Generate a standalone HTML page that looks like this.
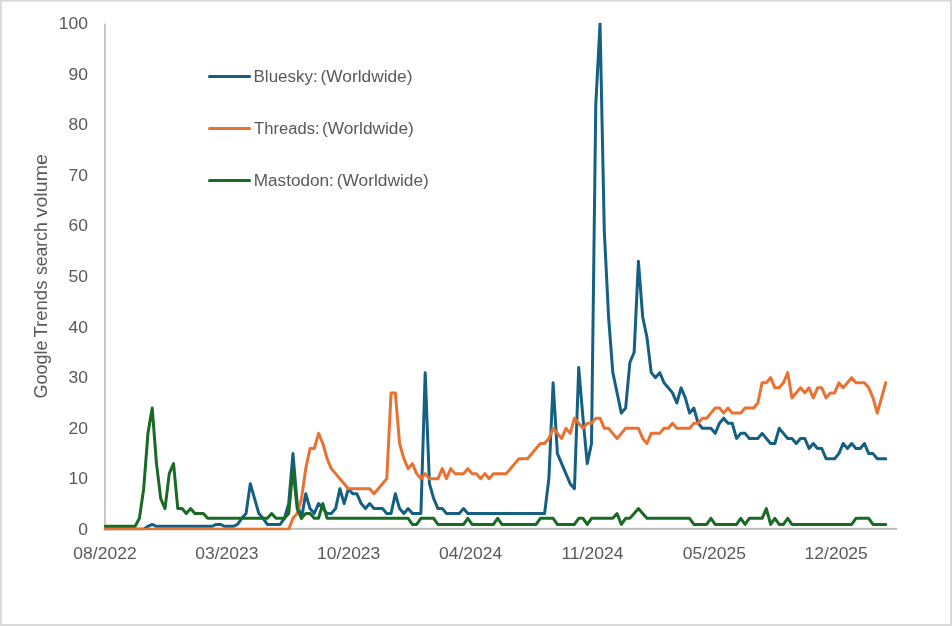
<!DOCTYPE html>
<html><head><meta charset="utf-8"><title>Google Trends search volume</title>
<style>
html,body{margin:0;padding:0;background:#fff;}
body{width:952px;height:626px;overflow:hidden;}
svg{display:block;}
text{font-family:"Liberation Sans",sans-serif;fill:#595959;}
</style></head><body>
<svg width="952" height="626" viewBox="0 0 952 626">
<rect x="0" y="0" width="952" height="626" fill="#ffffff"/>
<rect x="0" y="0" width="952" height="1.65" fill="#d9d9d9"/>
<rect x="0" y="624.1" width="952" height="1.9" fill="#d9d9d9"/>
<rect x="0" y="0" width="1.8" height="626" fill="#d9d9d9"/>
<rect x="950" y="0" width="2" height="626" fill="#d9d9d9"/>

<rect x="104.1" y="23.6" width="1.6" height="506.2" fill="#bdbdbd"/>
<rect x="104.1" y="527.85" width="793" height="1.95" fill="#bdbdbd"/>
<text transform="translate(88,534.9) scale(1.055,1)" font-size="16.6" text-anchor="end">0</text>
<text transform="translate(88,484.3) scale(1.055,1)" font-size="16.6" text-anchor="end">10</text>
<text transform="translate(88,433.7) scale(1.055,1)" font-size="16.6" text-anchor="end">20</text>
<text transform="translate(88,383.1) scale(1.055,1)" font-size="16.6" text-anchor="end">30</text>
<text transform="translate(88,332.5) scale(1.055,1)" font-size="16.6" text-anchor="end">40</text>
<text transform="translate(88,281.9) scale(1.055,1)" font-size="16.6" text-anchor="end">50</text>
<text transform="translate(88,231.3) scale(1.055,1)" font-size="16.6" text-anchor="end">60</text>
<text transform="translate(88,180.7) scale(1.055,1)" font-size="16.6" text-anchor="end">70</text>
<text transform="translate(88,130.1) scale(1.055,1)" font-size="16.6" text-anchor="end">80</text>
<text transform="translate(88,79.5) scale(1.055,1)" font-size="16.6" text-anchor="end">90</text>
<text transform="translate(88,28.9) scale(1.055,1)" font-size="16.6" text-anchor="end">100</text>
<text transform="translate(105.0,559.2) scale(1.055,1)" font-size="16.6" text-anchor="middle">08/2022</text>
<text transform="translate(226.9,559.2) scale(1.055,1)" font-size="16.6" text-anchor="middle">03/2023</text>
<text transform="translate(348.7,559.2) scale(1.055,1)" font-size="16.6" text-anchor="middle">10/2023</text>
<text transform="translate(470.6,559.2) scale(1.055,1)" font-size="16.6" text-anchor="middle">04/2024</text>
<text transform="translate(592.4,559.2) scale(1.055,1)" font-size="16.6" text-anchor="middle">11/2024</text>
<text transform="translate(714.3,559.2) scale(1.055,1)" font-size="16.6" text-anchor="middle">05/2025</text>
<text transform="translate(836.2,559.2) scale(1.055,1)" font-size="16.6" text-anchor="middle">12/2025</text>
<text transform="translate(47.3,398.6) rotate(-90)" font-size="17.6" textLength="58.0" lengthAdjust="spacingAndGlyphs">Google</text>
<text transform="translate(47.3,337.6) rotate(-90)" font-size="17.6" textLength="57.0" lengthAdjust="spacingAndGlyphs">Trends</text>
<text transform="translate(47.3,275.0) rotate(-90)" font-size="17.6" textLength="52.8" lengthAdjust="spacingAndGlyphs">search</text>
<text transform="translate(47.3,217.4) rotate(-90)" font-size="17.6" textLength="63.4" lengthAdjust="spacingAndGlyphs">volume</text>
<defs><clipPath id="pc"><rect x="100" y="22.8" width="800" height="507.4"/></clipPath></defs>
<g fill="none" stroke-width="3.0" stroke-linejoin="round" stroke-linecap="round" clip-path="url(#pc)">
<polyline stroke="#156082" points="105.30,529.20 109.56,529.20 113.83,529.20 118.09,529.20 122.36,529.20 126.62,529.20 130.89,529.20 135.16,529.20 139.42,529.20 143.69,529.20 147.95,526.27 152.22,524.44 156.48,526.27 160.75,526.27 165.01,526.27 169.27,526.27 173.54,526.27 177.81,526.27 182.07,526.27 186.33,526.27 190.60,526.27 194.87,526.27 199.13,526.27 203.39,526.27 207.66,526.27 211.92,526.27 216.19,524.44 220.45,524.44 224.72,526.27 228.98,526.27 233.25,526.27 237.51,524.44 241.78,518.28 246.04,513.52 250.31,483.66 254.57,498.64 258.84,513.52 263.10,518.28 267.37,524.44 271.63,524.44 275.90,524.44 280.16,524.44 284.43,518.28 288.69,503.60 292.96,453.60 297.22,503.60 301.49,518.28 305.75,493.78 310.02,508.56 314.28,513.52 318.55,503.60 322.81,508.56 327.08,513.52 331.34,513.52 335.61,508.56 339.88,488.72 344.14,503.60 348.40,488.72 352.67,493.78 356.94,493.78 361.20,503.60 365.46,508.56 369.73,503.60 374.00,508.56 378.26,508.56 382.52,508.56 386.79,513.52 391.06,513.52 395.32,493.78 399.58,508.56 403.85,513.52 408.12,508.56 412.38,513.52 416.64,513.52 420.91,513.52 425.18,372.64 429.44,483.66 433.70,498.64 437.97,508.56 442.24,508.56 446.50,513.52 450.76,513.52 455.03,513.52 459.29,513.52 463.56,508.56 467.82,513.52 472.09,513.52 476.35,513.52 480.62,513.52 484.88,513.52 489.15,513.52 493.41,513.52 497.68,513.52 501.94,513.52 506.21,513.52 510.47,513.52 514.74,513.52 519.00,513.52 523.27,513.52 527.53,513.52 531.80,513.52 536.06,513.52 540.33,513.52 544.59,513.52 548.86,478.70 553.12,382.76 557.39,453.60 561.65,463.62 565.92,473.64 570.18,483.66 574.45,488.72 578.71,367.58 582.98,418.18 587.24,463.62 591.51,443.48 595.77,104.46 600.04,23.50 604.30,230.96 608.57,316.98 612.83,372.64 617.10,392.88 621.36,413.12 625.63,408.06 629.89,362.52 634.16,352.40 638.42,261.32 642.69,316.98 646.95,337.22 651.22,372.64 655.48,377.70 659.75,372.64 664.01,382.76 668.28,387.82 672.54,392.88 676.81,403.00 681.07,387.82 685.34,397.94 689.60,413.12 693.87,408.06 698.13,423.24 702.40,428.30 706.66,428.30 710.93,428.30 715.19,433.36 719.46,423.24 723.72,418.18 727.99,423.24 732.25,423.24 736.52,438.42 740.78,433.36 745.05,433.36 749.31,438.42 753.58,438.42 757.84,438.42 762.11,433.36 766.37,438.42 770.64,443.48 774.90,443.48 779.17,428.30 783.43,433.36 787.70,438.42 791.96,438.42 796.23,443.48 800.49,438.42 804.76,438.42 809.02,448.54 813.29,443.48 817.55,448.54 821.82,448.54 826.08,458.66 830.35,458.66 834.61,458.66 838.88,453.60 843.14,443.48 847.41,448.54 851.67,443.48 855.94,448.54 860.20,448.54 864.47,443.48 868.73,453.60 873.00,453.60 877.26,458.66 881.53,458.66 885.79,458.66"/>
<polyline stroke="#e97132" points="105.30,529.20 109.56,529.20 113.83,529.20 118.09,529.20 122.36,529.20 126.62,529.20 130.89,529.20 135.16,529.20 139.42,529.20 143.69,529.20 147.95,529.20 152.22,529.20 156.48,529.20 160.75,529.20 165.01,529.20 169.27,529.20 173.54,529.20 177.81,529.20 182.07,529.20 186.33,529.20 190.60,529.20 194.87,529.20 199.13,529.20 203.39,529.20 207.66,529.20 211.92,529.20 216.19,529.20 220.45,529.20 224.72,529.20 228.98,529.20 233.25,529.20 237.51,529.20 241.78,529.20 246.04,529.20 250.31,529.20 254.57,529.20 258.84,529.20 263.10,529.20 267.37,529.20 271.63,529.20 275.90,529.20 280.16,529.20 284.43,529.20 288.69,529.20 292.96,518.28 297.22,513.52 301.49,498.64 305.75,468.68 310.02,448.54 314.28,448.54 318.55,433.36 322.81,443.48 327.08,458.66 331.34,468.68 335.61,473.64 339.88,478.70 344.14,483.66 348.40,488.72 352.67,488.72 356.94,488.72 361.20,488.72 365.46,488.72 369.73,488.72 374.00,493.78 378.26,488.72 382.52,483.66 386.79,478.70 391.06,392.88 395.32,392.88 399.58,443.48 403.85,458.66 408.12,468.68 412.38,463.62 416.64,473.64 420.91,478.70 425.18,473.64 429.44,478.70 433.70,478.70 437.97,478.70 442.24,468.68 446.50,478.70 450.76,468.68 455.03,473.64 459.29,473.64 463.56,473.64 467.82,468.68 472.09,473.64 476.35,473.64 480.62,478.70 484.88,473.64 489.15,478.70 493.41,473.64 497.68,473.64 501.94,473.64 506.21,473.64 510.47,468.68 514.74,463.62 519.00,458.66 523.27,458.66 527.53,458.66 531.80,453.60 536.06,448.54 540.33,443.48 544.59,443.48 548.86,438.42 553.12,428.30 557.39,433.36 561.65,438.42 565.92,428.30 570.18,433.36 574.45,418.18 578.71,423.24 582.98,428.30 587.24,423.24 591.51,423.24 595.77,418.18 600.04,418.18 604.30,428.30 608.57,428.30 612.83,433.36 617.10,438.42 621.36,433.36 625.63,428.30 629.89,428.30 634.16,428.30 638.42,428.30 642.69,438.42 646.95,443.48 651.22,433.36 655.48,433.36 659.75,433.36 664.01,428.30 668.28,428.30 672.54,423.24 676.81,428.30 681.07,428.30 685.34,428.30 689.60,428.30 693.87,423.24 698.13,423.24 702.40,418.18 706.66,418.18 710.93,413.12 715.19,408.06 719.46,408.06 723.72,413.12 727.99,408.06 732.25,413.12 736.52,413.12 740.78,413.12 745.05,408.06 749.31,408.06 753.58,408.06 757.84,403.00 762.11,382.76 766.37,382.76 770.64,377.70 774.90,387.82 779.17,387.82 783.43,382.76 787.70,372.64 791.96,397.94 796.23,392.88 800.49,387.82 804.76,392.88 809.02,387.82 813.29,397.94 817.55,387.82 821.82,387.82 826.08,397.94 830.35,392.88 834.61,392.88 838.88,382.76 843.14,387.82 847.41,382.76 851.67,377.70 855.94,382.76 860.20,382.76 864.47,382.76 868.73,387.82 873.00,397.94 877.26,413.12 881.53,397.94 885.79,382.76"/>
<polyline stroke="#196b24" points="105.30,526.27 109.56,526.27 113.83,526.27 118.09,526.27 122.36,526.27 126.62,526.27 130.89,526.27 135.16,526.27 139.42,518.28 143.69,488.72 147.95,433.36 152.22,408.06 156.48,463.62 160.75,498.64 165.01,508.56 169.27,473.64 173.54,463.62 177.81,508.56 182.07,508.56 186.33,513.52 190.60,508.56 194.87,513.52 199.13,513.52 203.39,513.52 207.66,518.28 211.92,518.28 216.19,518.28 220.45,518.28 224.72,518.28 228.98,518.28 233.25,518.28 237.51,518.28 241.78,518.28 246.04,518.28 250.31,518.28 254.57,518.28 258.84,518.28 263.10,518.28 267.37,518.28 271.63,513.52 275.90,518.28 280.16,518.28 284.43,518.28 288.69,513.52 292.96,468.68 297.22,508.56 301.49,518.28 305.75,513.52 310.02,513.52 314.28,518.28 318.55,518.28 322.81,503.60 327.08,518.28 331.34,518.28 335.61,518.28 339.88,518.28 344.14,518.28 348.40,518.28 352.67,518.28 356.94,518.28 361.20,518.28 365.46,518.28 369.73,518.28 374.00,518.28 378.26,518.28 382.52,518.28 386.79,518.28 391.06,518.28 395.32,518.28 399.58,518.28 403.85,518.28 408.12,518.28 412.38,524.44 416.64,524.44 420.91,518.28 425.18,518.28 429.44,518.28 433.70,518.28 437.97,524.44 442.24,524.44 446.50,524.44 450.76,524.44 455.03,524.44 459.29,524.44 463.56,524.44 467.82,518.28 472.09,524.44 476.35,524.44 480.62,524.44 484.88,524.44 489.15,524.44 493.41,524.44 497.68,518.28 501.94,524.44 506.21,524.44 510.47,524.44 514.74,524.44 519.00,524.44 523.27,524.44 527.53,524.44 531.80,524.44 536.06,524.44 540.33,518.28 544.59,518.28 548.86,518.28 553.12,518.28 557.39,524.44 561.65,524.44 565.92,524.44 570.18,524.44 574.45,524.44 578.71,518.28 582.98,518.28 587.24,524.44 591.51,518.28 595.77,518.28 600.04,518.28 604.30,518.28 608.57,518.28 612.83,518.28 617.10,513.52 621.36,524.44 625.63,518.28 629.89,518.28 634.16,513.52 638.42,508.56 642.69,513.52 646.95,518.28 651.22,518.28 655.48,518.28 659.75,518.28 664.01,518.28 668.28,518.28 672.54,518.28 676.81,518.28 681.07,518.28 685.34,518.28 689.60,518.28 693.87,524.44 698.13,524.44 702.40,524.44 706.66,524.44 710.93,518.28 715.19,524.44 719.46,524.44 723.72,524.44 727.99,524.44 732.25,524.44 736.52,524.44 740.78,518.28 745.05,524.44 749.31,518.28 753.58,518.28 757.84,518.28 762.11,518.28 766.37,508.56 770.64,524.44 774.90,518.28 779.17,524.44 783.43,524.44 787.70,518.28 791.96,524.44 796.23,524.44 800.49,524.44 804.76,524.44 809.02,524.44 813.29,524.44 817.55,524.44 821.82,524.44 826.08,524.44 830.35,524.44 834.61,524.44 838.88,524.44 843.14,524.44 847.41,524.44 851.67,524.44 855.94,518.28 860.20,518.28 864.47,518.28 868.73,518.28 873.00,524.44 877.26,524.44 881.53,524.44 885.79,524.44"/>
</g>
<g fill="none" stroke-width="3.0" stroke-linecap="round">
<line x1="209.5" y1="76.5" x2="249.6" y2="76.5" stroke="#156082"/>
<line x1="209.5" y1="128.5" x2="249.6" y2="128.5" stroke="#e97132"/>
<line x1="209.5" y1="180.4" x2="249.6" y2="180.4" stroke="#196b24"/>
</g>
<text y="81.7" font-size="15.8"><tspan x="253.5" textLength="64.3" lengthAdjust="spacingAndGlyphs">Bluesky:</tspan> <tspan x="320.5" textLength="92.0" lengthAdjust="spacingAndGlyphs">(Worldwide)</tspan></text>
<text y="133.7" font-size="15.8"><tspan x="254.1" textLength="65.5" lengthAdjust="spacingAndGlyphs">Threads:</tspan> <tspan x="321.9" textLength="92.0" lengthAdjust="spacingAndGlyphs">(Worldwide)</tspan></text>
<text y="185.6" font-size="15.8"><tspan x="253.8" textLength="80.0" lengthAdjust="spacingAndGlyphs">Mastodon:</tspan> <tspan x="336.8" textLength="92.0" lengthAdjust="spacingAndGlyphs">(Worldwide)</tspan></text>
</svg></body></html>
